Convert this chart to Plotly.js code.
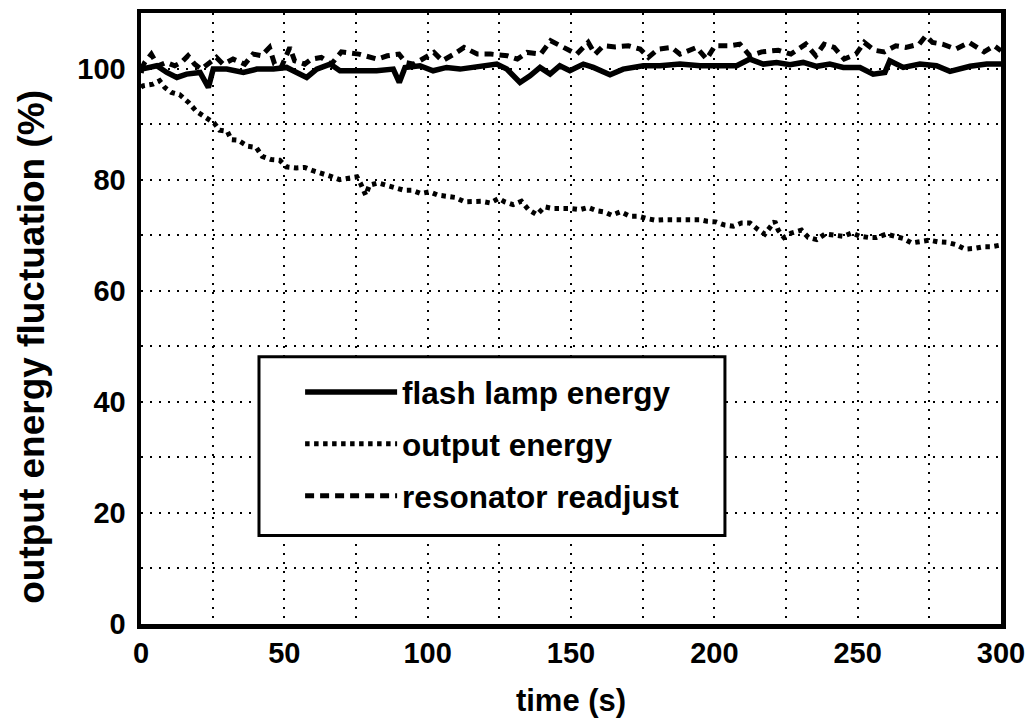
<!DOCTYPE html>
<html>
<head>
<meta charset="utf-8">
<script src="https://cdn.plot.ly/plotly-3.0.1.min.js"></script>
<style>
  html, body { margin: 0; padding: 0; background: #fff; }
  #chart { width: 1036px; height: 719px; }
</style>
</head>
<body>
<div id="chart"></div>
<script>
// ---- data ----
var seriesNames = ["flash lamp energy", "output energy", "resonator readjust"];

var flashX = [0, 0.2, 5.5, 9.0, 12.5, 15.9, 20.6, 23.5, 25.2, 29.9, 35.7, 40.4, 46.2, 50.8, 54.3, 57.8, 61.3, 66.0, 69.4, 75.2, 82.2, 88.0, 90.1, 92.1, 97.3, 101.9, 106.6, 111.3, 117.1, 124.1, 127.6, 132.2, 135.7, 139.2, 142.7, 146.1, 149.6, 154.3, 157.8, 163.6, 168.2, 175.2, 181.0, 188.0, 195.0, 200.8, 207.8, 212.4, 217.1, 221.7, 226.4, 231.0, 235.7, 240.3, 245.0, 250.8, 255.4, 259.5, 261.2, 265.9, 271.7, 277.5, 282.2, 289.2, 295.0, 300];
var flashY = [99.2, 99.9, 100.5, 99.3, 98.4, 99.0, 99.3, 96.6, 99.9, 99.9, 99.3, 99.9, 99.9, 100.2, 99.3, 98.4, 99.9, 100.8, 99.6, 99.5, 99.6, 99.9, 97.5, 100.2, 100.5, 99.6, 100.2, 99.9, 100.2, 100.8, 99.9, 97.5, 98.7, 100.2, 99.0, 100.5, 99.6, 100.8, 100.2, 98.9, 99.9, 100.5, 100.5, 100.8, 100.5, 100.5, 100.5, 101.7, 100.8, 101.1, 100.7, 101.1, 100.4, 100.8, 100.2, 100.2, 99.0, 99.3, 101.4, 100.2, 100.8, 100.5, 99.5, 100.4, 100.8, 100.8];

var outX = [0, 0.7, 4.2, 6.5, 8.3, 10.6, 13.5, 16.6, 19.3, 22.2, 25.5, 27.4, 30.1, 31.5, 33.8, 37.3, 40.2, 42.3, 45.5, 48.4, 50.7, 54.2, 57.1, 60.0, 62.9, 66.2, 69.3, 72.2, 75.3, 76.6, 77.4, 78.4, 79.7, 82.7, 85.6, 88.7, 91.7, 94.5, 97.6, 100.7, 103.6, 106.8, 109.6, 112.9, 115.8, 118.7, 121.8, 124.8, 126.9, 129.8, 132.7, 135.2, 138.1, 140.8, 143.7, 146.8, 149.9, 153.1, 156.0, 158.9, 161.5, 164.2, 167.3, 170.6, 173.5, 176.4, 179.3, 182.4, 185.5, 188.6, 191.5, 194.7, 197.5, 200.5, 203.7, 206.6, 209.5, 212.4, 215.3, 217.6, 219.7, 221.1, 222.3, 224.3, 226.9, 230.4, 232.8, 235.7, 238.6, 242.1, 245.0, 247.9, 250.8, 253.7, 256.6, 259.9, 263.0, 265.9, 268.8, 271.7, 275.0, 278.1, 281.2, 284.3, 287.4, 290.5, 293.6, 296.4, 299.6];
var outY = [96.6, 96.9, 97.2, 97.8, 96.6, 95.7, 95.3, 93.9, 92.3, 91.2, 90.2, 88.9, 88.7, 87.2, 87.1, 86.0, 85.8, 84.2, 83.6, 83.5, 82.3, 82.1, 82.2, 81.6, 81.2, 80.6, 80.0, 80.2, 80.5, 79.3, 78.1, 77.2, 79.0, 79.4, 79.0, 78.6, 78.1, 78.1, 77.5, 77.8, 77.2, 77.0, 76.8, 76.0, 76.1, 76.1, 75.8, 76.6, 76.0, 75.5, 76.1, 74.6, 73.7, 75.1, 74.8, 74.9, 74.8, 74.6, 75.0, 74.4, 74.2, 73.6, 74.2, 73.4, 73.4, 73.0, 72.7, 72.8, 72.8, 72.8, 72.8, 72.8, 72.5, 72.4, 71.8, 71.6, 72.2, 72.2, 71.0, 70.2, 71.6, 72.5, 70.9, 69.6, 70.4, 70.9, 69.6, 69.2, 70.2, 70.0, 69.8, 70.4, 69.8, 69.6, 69.6, 70.2, 69.8, 69.4, 68.6, 68.8, 69.1, 68.8, 68.7, 68.3, 67.5, 67.6, 67.9, 67.9, 68.2];

var resX = [0, 1.3, 3.6, 5.9, 8.8, 11.8, 14.1, 16.4, 18.7, 21.0, 26.3, 28.6, 32.1, 36.2, 39.1, 42.0, 44.8, 46.6, 48.9, 51.9, 53.6, 57.1, 59.4, 62.9, 66.4, 69.9, 76.0, 79.5, 82.4, 85.9, 90.0, 92.3, 95.2, 102.2, 105.1, 109.2, 112.7, 117.3, 122.0, 127.8, 131.3, 134.7, 139.4, 142.9, 147.5, 152.0, 156.0, 158.4, 161.3, 165.4, 170.0, 174.1, 177.0, 180.4, 185.1, 188.0, 193.8, 197.3, 200.2, 205.4, 208.9, 212.4, 216.5, 222.3, 226.7, 231.9, 235.4, 238.3, 241.8, 245.3, 249.4, 252.3, 255.8, 259.3, 263.3, 266.8, 271.5, 273.8, 276.1, 279.6, 284.2, 288.9, 294.1, 297.6, 300];
var resY = [99.8, 101.1, 102.6, 100.5, 101.1, 100.5, 101.1, 102.3, 100.8, 99.9, 102.0, 100.8, 101.7, 100.8, 102.6, 102.3, 103.8, 100.8, 100.2, 103.8, 101.4, 100.8, 101.7, 102.0, 100.8, 103.0, 102.6, 102.0, 101.7, 102.3, 102.6, 101.1, 100.8, 102.9, 101.4, 102.6, 103.8, 102.6, 102.6, 102.3, 101.7, 102.9, 102.6, 105.0, 103.8, 102.6, 104.7, 102.6, 104.1, 103.9, 104.1, 103.5, 102.0, 103.5, 103.8, 102.6, 103.8, 101.7, 104.1, 104.1, 104.4, 102.3, 103.0, 103.3, 102.6, 104.4, 102.3, 104.4, 103.8, 101.7, 102.6, 104.7, 103.3, 103.0, 104.1, 103.8, 104.4, 105.9, 104.7, 104.4, 103.5, 104.7, 103.0, 104.1, 103.2];

var xTickVals = [0, 50, 100, 150, 200, 250, 300];
var yTickVals = [0, 20, 40, 60, 80, 100];
var xTitle = "time (s)";
var yTitle = "output energy fluctuation (%)";

// ---- chart ----
var FONT = "Liberation Sans, Arial, Helvetica, sans-serif";
var traces = [
  { x: flashX, y: flashY, name: seriesNames[0], mode: "lines", legendgroup: "a",
    line: { color: "#000", width: 5.5, dash: "solid" } },
  { x: outX, y: outY, name: seriesNames[1], mode: "lines", legendgroup: "b",
    line: { color: "#000", width: 5, dash: "4.5px,4.5px" } },
  { x: resX, y: resY, name: seriesNames[2], mode: "lines", legendgroup: "c",
    line: { color: "#000", width: 5, dash: "9px,6px" } }
];

var gridStyle = { showgrid: true, gridcolor: "#000", gridwidth: 2, griddash: "2px,7px" };

var layout = {
  width: 1036, height: 719,
  margin: { l: 141, r: 35, t: 13, b: 95, pad: 0 },
  paper_bgcolor: "#fff", plot_bgcolor: "#fff",
  showlegend: true,
  font: { family: FONT, color: "#000" },
  xaxis: Object.assign({
    range: [0, 300], tickmode: "array", tickvals: xTickVals,
    ticks: "", zeroline: false,
    showline: true, mirror: true, linecolor: "#000", linewidth: 4.5,
    tickfont: { family: FONT, size: 29, color: "#000", weight: "bold" },
    minor: Object.assign({ dtick: 25, tick0: 0 }, gridStyle),
    title: { text: xTitle, font: { family: FONT, size: 31, color: "#000", weight: "bold" }, standoff: 22 }
  }, gridStyle),
  yaxis: Object.assign({
    range: [0, 110], tickmode: "array", tickvals: yTickVals,
    ticks: "", zeroline: false, ticklabelstandoff: 5,
    showline: true, mirror: true, linecolor: "#000", linewidth: 4.5,
    tickfont: { family: FONT, size: 29, color: "#000", weight: "bold" },
    minor: Object.assign({ dtick: 10, tick0: 0 }, gridStyle)
  }, gridStyle),
  legend: {
    x: 0.185, y: 0.424, xanchor: "left", yanchor: "top",
    bgcolor: "rgba(0,0,0,0)", borderwidth: 0,
    itemwidth: 92, tracegroupgap: 8,
    font: { family: FONT, size: 31.5, color: "#000", weight: "bold" }
  },
  annotations: [{
    text: yTitle, xref: "paper", yref: "paper",
    x: -0.1267, y: 0.4537, xanchor: "center", yanchor: "middle",
    textangle: -90, showarrow: false,
    font: { family: FONT, size: 37, color: "#000", weight: "bold" }
  }],
  shapes: [{
    type: "rect", xref: "paper", yref: "paper",
    x0: 0.1372, x1: 0.679, y0: 0.1448, y1: 0.4373,
    line: { color: "#000", width: 3 }, fillcolor: "#fff", layer: "above"
  }]
};

Plotly.newPlot("chart", traces, layout, { displayModeBar: false, staticPlot: true });
</script>
</body>
</html>
